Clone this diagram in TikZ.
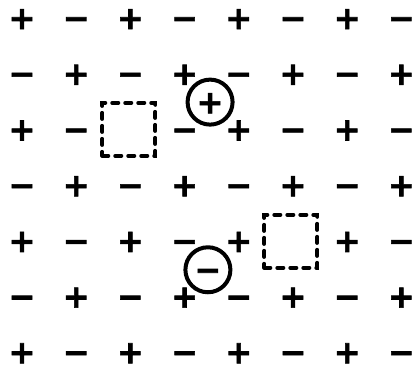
\documentclass[tikz,border=0pt]{standalone}
\usepackage{fontspec}
\setmainfont{DejaVu Sans}
\newfontfamily\signfont{DejaVu Sans Bold}[FakeBold=2]
\begin{document}
\begin{tikzpicture}[x=54.2pt, y=-55.7pt,
    ion/.style={font=\fontsize{32}{32}\signfont, inner sep=0pt,
      text height=22.3pt, text depth=0pt},
    interstitial/.style={ion, circle, draw, line width=4pt, minimum size=45pt},
    vacancy/.style={draw, dash pattern=on 6pt off 7pt, line width=4pt,
      line cap=round, minimum size=53pt, inner sep=0pt}]
  \useasboundingbox (-22pt,18pt) rectangle (397pt,-352pt);

  % --- the ionic lattice, alternating charges
  \foreach \r in {0,...,6}
    \foreach \c in {0,...,7} {
      \pgfmathtruncatemacro\odd{mod(\r+\c,2)}
      \pgfmathtruncatemacro\hole{(\r==2 && \c==2) || (\r==4 && \c==5)}
      \ifnum\hole=0
        \node[ion] (ion-\r-\c) at (\c,\r) {\ifnum\odd=0 +\else −\fi};
      \fi
    }

  % --- vacancies
  \node[vacancy] (vac-plus) at (1.97,2) {};
  \node[vacancy] (vac-minus) at (4.96,4.01) {};

  % --- interstitials
  \node[interstitial] (int-plus) at (3.47,1.51) {+};
  \node[interstitial] (int-minus) at (3.43,4.52) {−};
\end{tikzpicture}
\end{document}
